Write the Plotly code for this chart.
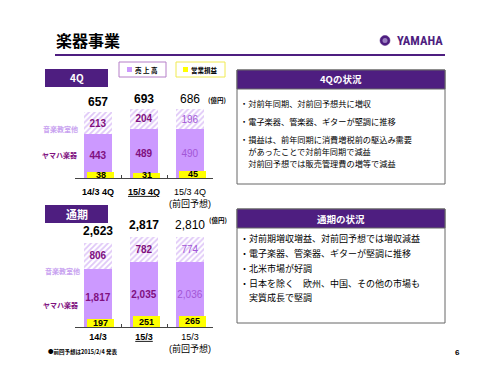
import plotly.graph_objects as go

# ---------------- data ----------------
q_categories = ["14/3 4Q", "15/3 4Q", "15/3 4Q<br>(前回予想)"]
q_ticktext = ["<b>14/3 4Q</b>", "<b><u>15/3 4Q</u></b>", "15/3 4Q<br>(前回予想)"]
q_yamaha = [443, 489, 490]
q_school = [213, 204, 196]
q_total = [657, 693, 686]
q_total_text = ["<b>657</b>", "<b>693</b>", "686"]
q_profit = [38, 31, 45]

y_categories = ["14/3", "15/3", "15/3<br>(前回予想)"]
y_ticktext = ["<b>14/3</b>", "<b><u>15/3</u></b>", "15/3<br>(前回予想)"]
y_yamaha = [1817, 2035, 2036]
y_school = [806, 782, 774]
y_total = [2623, 2817, 2810]
y_total_text = ["<b>2,623</b>", "<b>2,817</b>", "2,810"]
y_profit = [197, 251, 265]

q_notes = ["・対前年同期、対前回予想共に増収",
           "・電子楽器、管楽器、ギターが堅調に推移",
           "・損益は、前年同期に消費増税前の駆込み需要",
           "　があったことで対前年同期で減益",
           "　対前回予想では販売管理費の増等で減益"]
y_notes = ["・対前期増収増益、対前回予想では増収減益",
           "・電子楽器、管楽器、ギターが堅調に推移",
           "・北米市場が好調",
           "・日本を除く　欧州、中国、その他の市場も",
           "　実質成長で堅調"]

# ---------------- style ----------------
W, H = 500, 375
PURPLE_DARK = "#4E1E80"
BAR_PURPLE = "#CC99FF"
HATCH_PURPLE = "#BF8FF0"
LABEL_DARK = "#80107F"
LABEL_FORECAST = "#A256D6"
YELLOW = "#FFFF00"
JP = "Noto Sans CJK JP, sans-serif"
NUM = "Liberation Sans, Arial, Noto Sans CJK JP, sans-serif"


def fx(x):
    return x / W


def fy(y):
    return 1 - y / H


fig = go.Figure()

BW = 0.59
BO = -0.295
YW = 0.60
YO = -0.245


def add_chart(cats, yam, sch, prof, xa, ya, ya2, forecast_color):
    colors_in = [LABEL_DARK, LABEL_DARK, forecast_color]
    fig.add_trace(go.Bar(
        x=cats, y=yam, xaxis=xa, yaxis=ya,
        width=[BW] * 3, offset=[BO] * 3,
        marker=dict(color=BAR_PURPLE, line=dict(width=0)),
        text=[f"{v:,}" for v in yam], textposition="inside", textangle=0,
        insidetextanchor="middle", constraintext="none",
        textfont=dict(family=NUM, size=10, color=colors_in),
        texttemplate=["<b>%{text}</b>", "<b>%{text}</b>", "%{text}"],
        hoverinfo="skip"))
    fig.add_trace(go.Bar(
        x=cats, y=sch, xaxis=xa, yaxis=ya,
        width=[BW] * 3, offset=[BO] * 3,
        marker=dict(color="white", line=dict(width=0),
                    pattern=dict(shape="/", fgcolor=HATCH_PURPLE, bgcolor="white",
                                 size=4, solidity=0.45)),
        text=[f"{v:,}" for v in sch], textposition="inside", textangle=0,
        insidetextanchor="middle", constraintext="none",
        textfont=dict(family=NUM, size=10, color=colors_in),
        texttemplate=["<b>%{text}</b>", "<b>%{text}</b>", "%{text}"],
        hoverinfo="skip"))
    fig.add_trace(go.Bar(
        x=cats, y=prof, xaxis=xa, yaxis=ya2,
        width=[YW] * 3, offset=[YO] * 3,
        marker=dict(color=YELLOW, line=dict(width=0)),
        hoverinfo="skip"))


add_chart(q_categories, q_yamaha, q_school, q_profit, "x", "y", "y3", LABEL_FORECAST)
add_chart(y_categories, y_yamaha, y_school, y_profit, "x2", "y2", "y4", LABEL_FORECAST)

annotations = []
shapes = []


def ptext(x, y, text, size, color="black", family=JP, xanchor="left"):
    annotations.append(dict(x=fx(x), y=fy(y), xref="paper", yref="paper", text=text,
                            showarrow=False, xanchor=xanchor, yanchor="middle",
                            font=dict(family=family, size=size, color=color)))


def prect(x0, y0, x1, y1, fill, line_color=None, lw=1):
    shapes.append(dict(type="rect", xref="paper", yref="paper", x0=fx(x0), x1=fx(x1),
                       y0=fy(y1), y1=fy(y0), fillcolor=fill,
                       line=dict(color=line_color or fill, width=lw if line_color else 0)))


# profit labels
for cats, prof, ya, xa in ((q_categories, q_profit, "y3", "x"), (y_categories, y_profit, "y4", "x2")):
    for c, v in zip(cats, prof):
        annotations.append(dict(x=c, y=v / 2, xref=xa, yref=ya, text=f"<b>{v}</b>",
                                showarrow=False, xshift=2.5, xanchor="center", yanchor="middle",
                                font=dict(family=NUM, size=9, color="black")))

# totals
for c, v, t in zip(q_categories, q_total, q_total_text):
    annotations.append(dict(x=c, y=v, xref="x", yref="y", text=t, showarrow=False,
                            xanchor="center", yanchor="bottom", yshift=1,
                            font=dict(family=NUM, size=12, color="black")))
for c, v, t in zip(y_categories, y_total, y_total_text):
    annotations.append(dict(x=c, y=v, xref="x2", yref="y2", text=t, showarrow=False,
                            xanchor="center", yanchor="bottom", yshift=3,
                            font=dict(family=NUM, size=12, color="black")))

# unit labels
ptext(206, 100, "<b>(億円)</b>", 6.5)
ptext(207, 220, "<b>(億円)</b>", 6.5)

# series labels
ptext(80, 129, "<b>音楽教室他</b>", 7, "#C8A2F0", xanchor="right")
ptext(79, 155, "<b>ヤマハ楽器</b>", 7, LABEL_DARK, xanchor="right")
ptext(82, 271, "<b>音楽教室他</b>", 7, "#C8A2F0", xanchor="right")
ptext(80, 305, "<b>ヤマハ楽器</b>", 7, LABEL_DARK, xanchor="right")

# title
ptext(54, 40, "<b>楽器事業</b>", 16)
shapes.append(dict(type="line", xref="paper", yref="paper", x0=fx(55), x1=fx(445),
                   y0=fy(55), y1=fy(55), line=dict(color=PURPLE_DARK, width=2)))
# YAMAHA logo
shapes.append(dict(type="circle", xref="paper", yref="paper", x0=fx(380), x1=fx(390),
                   y0=fy(45.5), y1=fy(35.5), fillcolor=PURPLE_DARK, line=dict(color=PURPLE_DARK, width=0.5)))
shapes.append(dict(type="circle", xref="paper", yref="paper", x0=fx(382.5), x1=fx(387.5),
                   y0=fy(43), y1=fy(38), fillcolor="#9A7FC0", line=dict(width=0)))
ptext(445, 40.5, "<b>YAMAHA</b>", 12.5, PURPLE_DARK,
      family="Liberation Sans Narrow, Roboto Condensed, Liberation Sans", xanchor="right")

# section boxes
prect(45, 69, 108, 87, PURPLE_DARK)
ptext(76.5, 78, "<b>4Q</b>", 10, "white", xanchor="center")
prect(45, 205, 108, 223, PURPLE_DARK)
ptext(76.5, 214, "<b>通期</b>", 11, "white", xanchor="center")

# legend boxes
prect(119, 62, 166, 77, "white", "#B57FC8")
prect(127, 67, 132, 72, BAR_PURPLE)
ptext(133, 69.5, "<b>売 上 高</b>", 6.5)
prect(176, 62, 225, 77, "white", "#F0EA50")
prect(183, 67, 188, 72, YELLOW)
ptext(189, 69.5, "<b>営業損益</b>", 6.5)


# right text boxes
def text_box(top, head_bottom, bottom, head, lines, ys, size):
    prect(237, top, 445, bottom, "white", "#666666")
    prect(237, top, 445, head_bottom, PURPLE_DARK, "#666666")
    ptext(341, (top + head_bottom) / 2, f"<b>{head}</b>", 9.5, "white", xanchor="center")
    for ln, yy in zip(lines, ys):
        ptext(238, yy, ln, size)


text_box(70, 89, 184, "4Qの状況", q_notes, [103, 121, 139, 151, 163], 8.2)
text_box(209, 228, 323, "通期の状況", y_notes, [238, 253, 268, 283, 297], 9)

# footnote and page number
ptext(46, 352, "<b>●前回予想は2015/2/4 発表</b>", 5.5)
ptext(457, 352, "<b>6</b>", 8, family=NUM, xanchor="center")

xcommon = dict(type="category", showgrid=False, zeroline=False, showline=True,
               linecolor="#444444", linewidth=1.2, ticks="inside", ticklen=3,
               tickcolor="#444444", tickson="boundaries", tickangle=0, automargin=False,
               tickfont=dict(family=NUM + ", " + JP, size=9, color="black"))
ycommon = dict(showgrid=False, zeroline=False, showline=False, showticklabels=False, ticks="",
               automargin=False)

fig.update_layout(
    width=W, height=H, autosize=False,
    margin=dict(l=0, r=0, t=0, b=0, pad=0, autoexpand=False),
    paper_bgcolor="white", plot_bgcolor="rgba(0,0,0,0)",
    barmode="stack", showlegend=False,
    xaxis=dict(domain=[fx(75), fx(213)], anchor="y", tickvals=q_categories, ticktext=q_ticktext,
               ticklabelstandoff=5, **xcommon),
    yaxis=dict(domain=[fy(178), fy(98)], range=[0, 800], anchor="x", **ycommon),
    yaxis3=dict(overlaying="y", anchor="x", range=[0, 480], visible=False, automargin=False),
    xaxis2=dict(domain=[fx(75), fx(213)], anchor="y2", tickvals=y_categories, ticktext=y_ticktext,
                ticklabelstandoff=1, **xcommon),
    yaxis2=dict(domain=[fy(327), fy(231)], range=[0, 3000], anchor="x2", **ycommon),
    yaxis4=dict(overlaying="y2", anchor="x2", range=[0, 2230], visible=False, automargin=False),
    annotations=annotations, shapes=shapes,
)

fig.write_html("out.html", config={"displayModeBar": False},
               post_script="document.body.style.margin='0';")
